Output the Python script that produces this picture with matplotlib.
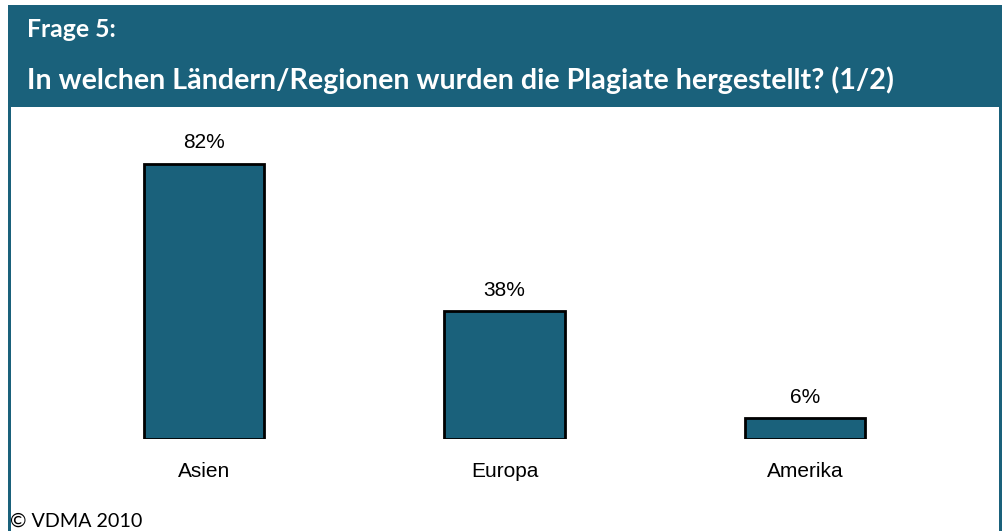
import matplotlib
matplotlib.use("Agg")
import matplotlib.pyplot as plt
from matplotlib.patches import Rectangle

categories = ["Asien", "Europa", "Amerika"]
values = [82, 38, 6]
value_labels = ["82%", "38%", "6%"]
title_line1 = "Frage 5:"
title_line2 = "In welchen Ländern/Regionen wurden die Plagiate hergestellt? (1/2)"
footer = "© VDMA 2010"

TEAL = "#1a617b"
W, H = 1006, 531
fig = plt.figure(figsize=(W / 100, H / 100), dpi=100)
fig.patch.set_facecolor("white")

def fx(px):
    return px / W

def fy(py):
    return 1 - py / H

# header band
fig.patches.append(Rectangle((fx(8), fy(107)), fx(1002) - fx(8), fy(5) - fy(107),
                             transform=fig.transFigure, facecolor=TEAL, edgecolor="none", zorder=0))
# side borders
fig.patches.append(Rectangle((fx(8), fy(531)), fx(3), fy(107) - fy(531),
                             transform=fig.transFigure, facecolor=TEAL, edgecolor="none", zorder=0))
fig.patches.append(Rectangle((fx(999), fy(531)), fx(3), fy(107) - fy(531),
                             transform=fig.transFigure, facecolor=TEAL, edgecolor="none", zorder=0))

fig.text(fx(27), fy(37), title_line1, color="white", fontsize=17.8, fontweight="bold",
         family="Lato", va="baseline", ha="left")
fig.text(fx(27), fy(89), title_line2, color="white", fontsize=20.6, fontweight="bold",
         family="Lato", va="baseline", ha="left")
fig.text(fx(10), fy(527), footer, color="black", fontsize=14.2, family="Lato",
         va="baseline", ha="left")

# bar axes: baseline at y=438.5, 82% -> 275 px
px_per_unit = 275.0 / 82
ax_top, ax_bot = 120, 438.5
ax = fig.add_axes([fx(54), fy(ax_bot), fx(955) - fx(54), fy(ax_top) - fy(ax_bot)])
ax.set_xlim(-0.5, 2.5)
ax.set_ylim(0, (ax_bot - ax_top) / px_per_unit)
ax.axis("off")

xs = list(range(len(categories)))
bars = ax.bar(xs, values, width=0.4, color=TEAL, edgecolor="black", linewidth=2)
for x, v, lab in zip(xs, values, value_labels):
    ax.annotate(lab, (x, v), xytext=(0, 15), textcoords="offset pixels",
                ha="center", va="baseline", fontsize=15, family="Liberation Sans")
for x, c in zip(xs, categories):
    ax.annotate(c, (x, 0), xytext=(0, -38.5), textcoords="offset pixels",
                ha="center", va="baseline", fontsize=15, family="Liberation Sans",
                annotation_clip=False)

fig.savefig("out.png", dpi=100, facecolor="white")
